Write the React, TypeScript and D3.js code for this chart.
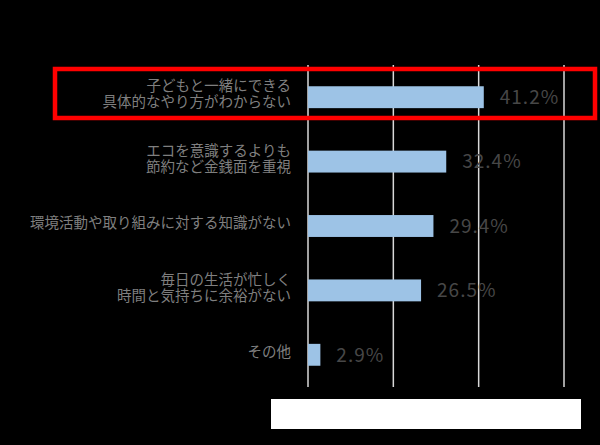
import React from "react";
import * as d3 from "d3";

const categories: string[] = [
  "子どもと一緒にできる\n具体的なやり方がわからない",
  "エコを意識するよりも\n節約など金銭面を重視",
  "環境活動や取り組みに対する知識がない",
  "毎日の生活が忙しく\n時間と気持ちに余裕がない",
  "その他",
];
const values: number[] = [41.2, 32.4, 29.4, 26.5, 2.9];
const gridTicks: number[] = [0, 20, 40, 60];

const W = 600;
const H = 445;

export default function App() {
  const x = d3.scaleLinear().domain([0, 60]).range([308, 564]);
  const y = d3
    .scaleBand<number>()
    .domain(d3.range(categories.length))
    .range([65, 387])
    .paddingInner(0.66)
    .paddingOuter(0.33);
  const bw = y.bandwidth();
  const font = "'Noto Sans CJK JP', 'Noto Sans', sans-serif";

  return (
    <div style={{ position: "fixed", left: 0, top: 0, width: W, height: H, background: "#000" }}>
      <svg width={W} height={H} style={{ display: "block" }}>
        <rect x={0} y={0} width={W} height={H} fill="#000" />
        {gridTicks.map((t) => (
          <line key={t} x1={x(t)} x2={x(t)} y1={65} y2={387} stroke="#d9d9d9" strokeWidth={1.5} />
        ))}
        {values.map((v, i) => {
          const y0 = y(i) as number;
          const cy = y0 + bw / 2;
          const lines = categories[i].split("\n");
          const lh = 16;
          const startY = cy - 3 - ((lines.length - 1) * lh) / 2;
          return (
            <g key={i}>
              <rect x={x(0)} y={y0} width={x(v) - x(0)} height={bw} fill="#9dc3e6" />
              <text
                x={x(v) + 16}
                y={cy}
                dy="0.36em"
                fill="#474747"
                fontSize={19}
                letterSpacing={1}
                fontFamily={font}
              >
                {v.toFixed(1) + "%"}
              </text>
              <text textAnchor="end" fill="#7f7f7f" fontSize={14.5} fontFamily={font}>
                {lines.map((l, k) => (
                  <tspan key={k} x={291} y={startY + k * lh} dy="0.36em">
                    {l}
                  </tspan>
                ))}
              </text>
            </g>
          );
        })}
        <rect x={55} y={69} width={540} height={49} fill="none" stroke="#ff0000" strokeWidth={4.5} />
        <rect x={271} y={399} width={310} height={30} fill="#ffffff" />
      </svg>
    </div>
  );
}
